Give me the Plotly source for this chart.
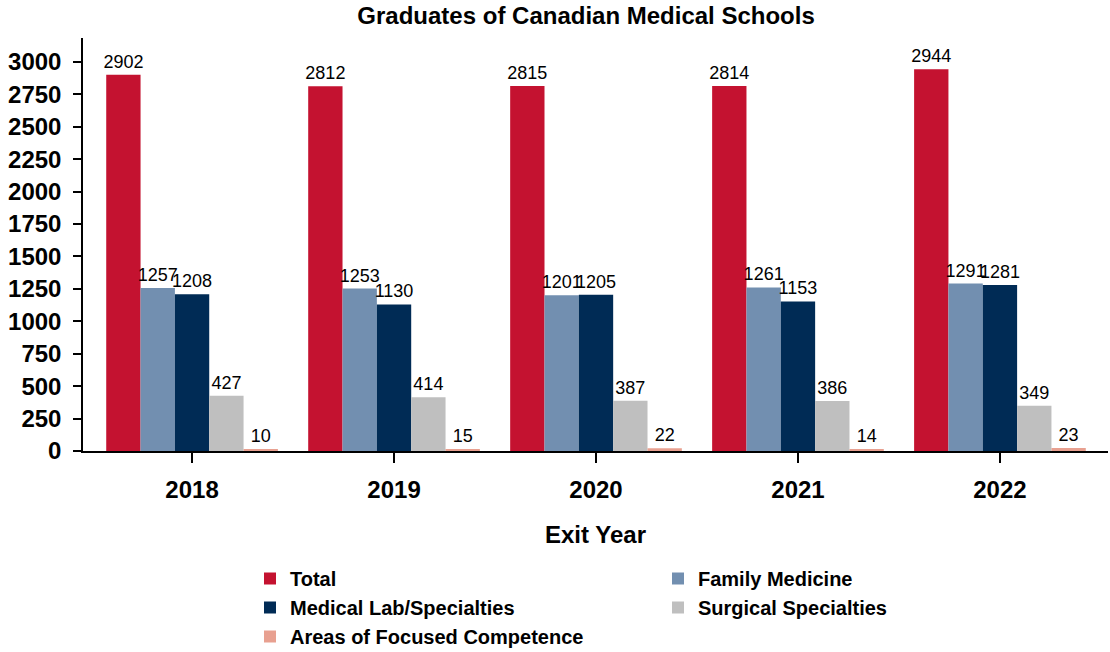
import plotly.graph_objects as go

# Exit years (categories)
years = ["2018", "2019", "2020", "2021", "2022"]

# Graduates by discipline
total = [2902, 2812, 2815, 2814, 2944]
family_medicine = [1257, 1253, 1201, 1261, 1291]
medical_lab = [1208, 1130, 1205, 1153, 1281]
surgical = [427, 414, 387, 386, 349]
focused_competence = [10, 15, 22, 14, 23]

series = [
    ("Total", total, "#C41230"),
    ("Family Medicine", family_medicine, "#728FB0"),
    ("Medical Lab/Specialties", medical_lab, "#002B55"),
    ("Surgical Specialties", surgical, "#BFBFBF"),
    ("Areas of Focused Competence", focused_competence, "#E8A090"),
]

y_ticks = list(range(0, 3001, 250))

FONT = "Liberation Sans, Arial, sans-serif"

fig = go.Figure()
for name, vals, color in series:
    fig.add_trace(go.Bar(
        name=name,
        x=years,
        y=vals,
        marker=dict(color=color, line=dict(width=0)),
        text=[str(v) for v in vals],
        textposition="outside",
        textfont=dict(family=FONT, size=18, color="#000000"),
        constraintext="none",
        cliponaxis=False,
    ))

fig.update_layout(
    width=1110,
    height=652,
    barmode="group",
    bargap=0.15,
    bargroupgap=0,
    plot_bgcolor="white",
    paper_bgcolor="white",
    margin=dict(l=83, r=2, t=38, b=201),
    title=dict(
        text="<b>Graduates of Canadian Medical Schools</b>",
        x=0.528, xanchor="center",
        y=1 - 16 / 652, yanchor="middle", yref="container",
        font=dict(family=FONT, size=24, color="#000000"),
    ),
    font=dict(family=FONT, color="#000000"),
    showlegend=True,
    legend=dict(
        orientation="h",
        x=250 / 1110, xanchor="left", xref="container",
        y=1 - 559 / 652, yanchor="top", yref="container",
        entrywidth=363, entrywidthmode="pixels",
        font=dict(family=FONT, size=20, color="#000000", weight="bold"),
        traceorder="normal",
        bgcolor="rgba(0,0,0,0)",
    ),
)

fig.update_xaxes(
    type="category",
    range=[-0.54, 4.535],
    showline=True, linecolor="#000000", linewidth=1.5,
    ticks="outside", ticklen=10, tickcolor="#000000", tickwidth=1.5,
    tickfont=dict(family=FONT, size=24, color="#000000", weight="bold"),
    ticklabelstandoff=6,
    title=dict(text="<b>Exit Year</b>", font=dict(family=FONT, size=24, color="#000000"), standoff=25),
    showgrid=False,
)

fig.update_yaxes(
    range=[0, 3185],
    tickvals=y_ticks,
    showline=True, linecolor="#000000", linewidth=1.5,
    ticks="outside", ticklen=8, tickcolor="#000000", tickwidth=1.5,
    tickfont=dict(family=FONT, size=24, color="#000000", weight="bold"),
    ticklabelstandoff=7,
    showgrid=False, zeroline=False,
)

fig.write_html("out.html")
